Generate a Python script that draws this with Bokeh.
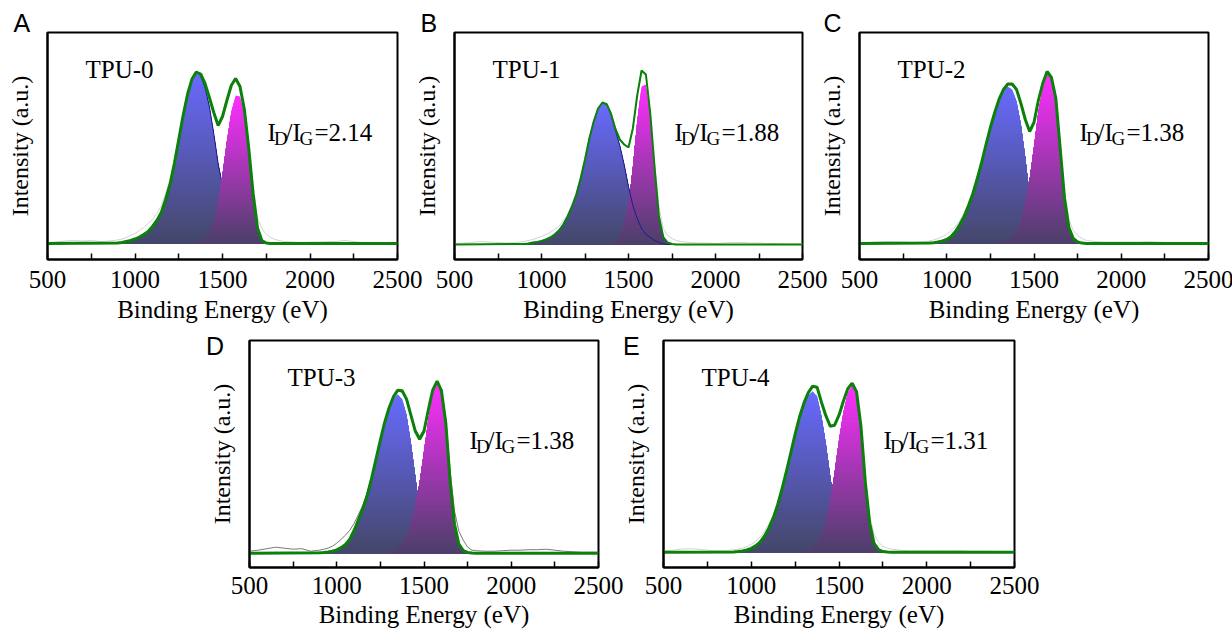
import numpy as np
from bokeh.plotting import figure
from bokeh.layouts import row, column
from bokeh.models import Range1d, FixedTicker, ColumnDataSource, Div
from bokeh.core.properties import value
from bokeh.embed import file_html
from bokeh.resources import INLINE

# ------------------------------------------------------------------ data
# x positions (Raman shift, labelled "Binding Energy (eV)" in the figure)
FIT_ENERGY = list(range(900, 1801, 25))
RAW_ENERGY = list(range(500, 851, 50)) + list(range(900, 1801, 25)) + list(range(1850, 2501, 50))
X_TICKS = [500, 1000, 1500, 2000, 2500]
X_MINOR_TICKS = [750, 1250, 1750, 2250]

PANEL_LETTERS = ["A", "B", "C", "D", "E"]
SAMPLES = ["TPU-0", "TPU-1", "TPU-2", "TPU-3", "TPU-4"]
ID_IG = ["2.14", "1.88", "1.38", "1.38", "1.31"]

# fitted D band (about 1350) and G band (about 1585), read on FIT_ENERGY
D_TPU0 = [0.5, 1, 2, 3, 4.5, 6.5, 9, 12, 17, 23, 31, 44, 59, 80, 104, 128, 149, 164, 171,
          168, 156, 137, 110, 80, 58, 41, 27, 17, 10, 6, 3, 1.5, 0.5, 0, 0, 0, 0]
G_TPU0 = [0, 0, 0, 0, 0, 0, 0, 0, 0, 0, 0, 0, 0, 0, 0, 0, 0,
          0.2, 0.5, 1.5, 4, 9, 21, 38, 69, 102, 131, 148, 147, 128, 92, 48, 15, 3, 0.5, 0, 0]
D_TPU1 = [0.5, 1, 2, 2.5, 3.5, 5, 7, 10, 14, 20, 28, 38, 50, 66, 85, 106, 123, 136, 142,
          140, 130, 114, 99, 80, 58, 39, 26, 16, 10, 7, 4, 2, 0.5, 0, 0, 0, 0]
G_TPU1 = [0, 0, 0, 0, 0, 0, 0, 0, 0, 0, 0, 0, 0, 0, 0, 0, 0, 0, 0,
          0.3, 0.5, 1.5, 6, 20, 39, 77, 123, 158, 160, 124, 73, 26, 7, 2, 0.5, 0, 0]
D_TPU2 = [0.4, 0.8, 1.5, 2.5, 4, 7, 12, 19, 27, 38, 50, 65, 81, 99, 116, 131, 144, 153, 157,
          154, 142, 119, 86, 48, 24, 11, 5, 2, 1, 0.3, 0, 0, 0, 0, 0, 0, 0]
G_TPU2 = [0, 0, 0, 0, 0, 0, 0, 0, 0, 0, 0, 0, 0, 0, 0, 0,
          0.4, 1, 2.5, 5.5, 12, 21, 38, 64, 97, 132, 155, 170, 165, 145, 95, 45, 16, 5, 1.5, 0.4, 0]
D_TPU3 = [0.4, 0.7, 1.2, 2, 3.3, 5.5, 8.7, 14, 23, 34, 45, 58, 75, 94, 113, 131, 145, 155, 159,
          154, 138, 110, 77, 43, 20, 9.5, 4, 1.5, 0.5, 0, 0, 0, 0, 0, 0, 0, 0]
G_TPU3 = [0, 0, 0, 0, 0, 0, 0, 0, 0, 0, 0, 0, 0, 0, 0, 0,
          0.5, 1.5, 4, 8.5, 16, 28, 45, 71, 102, 134, 159, 170.5, 162, 130, 71, 29, 9, 2.5, 0.7, 0.2, 0]
D_TPU4 = [0.3, 0.6, 1.2, 2.2, 3.8, 6.4, 10, 16, 24, 34, 47, 63, 80.5, 99, 118, 135, 148, 157, 161,
          156, 136, 108.5, 76, 47, 25, 11, 4.5, 1.6, 0.5, 0, 0, 0, 0, 0, 0, 0, 0]
G_TPU4 = [0, 0, 0, 0, 0, 0, 0, 0, 0, 0, 0, 0, 0, 0, 0,
          0.2, 1, 2.5, 5, 9, 14, 28, 50, 80, 112, 140, 159, 167.5, 160, 126, 70, 29, 8.8, 2.5, 0.6, 0.2, 0]

# measured spectra (thin grey lines), read on RAW_ENERGY
RAW_TPU0 = [1, 1.5, 2.5, 3, 2.5, 3, 2, 2.5,
            3.5, 4.5, 6, 8, 10, 13, 16, 20, 24, 30, 38, 50, 64, 84, 106, 129, 150, 164, 171, 169,
            160, 146, 131, 119, 127, 143, 157, 164, 158, 137, 100, 58, 26, 15, 9, 6, 4,
            2, 1.5, 1, 1.5, 1.5, 2, 2, 3, 2, 1, 1, 0.5, 0.5, 0.5]
RAW_TPU1 = [1, 1.5, 2, 3, 2.5, 2, 1.5, 2,
            3, 4, 5, 6.5, 8, 10, 12, 15, 18, 24, 30, 40, 52, 68, 87, 107, 124, 136, 142, 140,
            131, 117, 106, 101, 98, 117, 148, 172, 169, 133, 82, 38, 16, 9, 6, 4, 3,
            2, 1.5, 1.5, 1, 1.5, 2, 2, 1.5, 1.5, 1, 1, 0.5, 0.5, 0.5]
RAW_TPU2 = [1, 1, 1.5, 2, 1.5, 1.5, 1, 1.5,
            2.5, 3.5, 5, 7, 9, 13, 17, 23, 31, 41, 53, 67, 82, 99, 116, 131, 144, 153, 158, 158,
            153, 140, 125, 114, 122, 143, 159, 170, 165, 146, 100, 52, 24, 13, 8, 5, 3,
            2, 1.5, 1.5, 1.5, 1.5, 1.5, 2, 1.5, 1, 1, 1, 0.5, 0.5, 0.5]
RAW_TPU3 = [2, 3, 4.5, 6, 5, 4, 4.5, 2,
            3, 4, 5, 7, 10, 14, 18, 23, 30, 39, 48, 61, 77, 95, 114, 131, 145, 156, 162, 161,
            153, 138, 124, 117, 124, 144, 162, 170, 163, 135, 82, 42, 22, 13, 6, 3, 2.5,
            2, 2, 2.5, 3, 3, 3.5, 3.5, 4, 3, 2, 1.5, 1, 1, 1]
RAW_TPU4 = [1.5, 2, 3, 3.5, 3, 2, 1.5, 1.5,
            2.5, 3, 4, 5.5, 8, 11, 15, 21, 28, 37, 50, 65, 82, 100, 118, 135, 149, 159, 165, 164,
            150, 137, 127, 128, 137, 150, 162, 168, 161, 130, 76, 36, 18, 10, 6, 4, 3,
            2, 1.5, 1.5, 1.5, 1.5, 1.5, 1.5, 1.5, 1, 1, 1, 0.5, 0.5, 0.5]

D_BANDS = [D_TPU0, D_TPU1, D_TPU2, D_TPU3, D_TPU4]
G_BANDS = [G_TPU0, G_TPU1, G_TPU2, G_TPU3, G_TPU4]
RAWS = [RAW_TPU0, RAW_TPU1, RAW_TPU2, RAW_TPU3, RAW_TPU4]

# ------------------------------------------------------------------ style
SERIF = "Liberation Serif"
SANS = "Liberation Sans"
D_TOP, D_BOTTOM = (104, 106, 255), (68, 71, 104)
G_TOP, G_BOTTOM = (255, 46, 255), (75, 63, 105)
FIT_COLOR = "#0b800b"


def mix(c0, c1, t):
    return "#%02x%02x%02x" % tuple(int(round(a + (b - a) * t)) for a, b in zip(c0, c1))


def gradient_area(p, x, y, top_rgb, bottom_rgb, n=40):
    # vertical colour gradient, drawn as stacked layers (top colour first)
    xf = np.arange(x[0], x[-1] + 0.1, 2.5)
    yf = np.interp(xf, x, y)
    h = yf.max()
    for i in range(n - 1, -1, -1):
        hi = h * (i + 1) / n
        col = mix(bottom_rgb, top_rgb, (i + 0.5) / n)
        p.varea(x=xf, y1=np.zeros_like(yf), y2=np.minimum(yf, hi),
                fill_color=col, fill_alpha=1.0)


def panel(i, frame_w, frame_h, ml, mr, mt, mb, margin, y_lo, y_hi, title_dx,
          raw_color, fit_w, navy, tick_standoff, label_standoff):
    p = figure(frame_width=frame_w, frame_height=frame_h,
               x_range=Range1d(500, 2500), y_range=Range1d(y_lo, y_hi),
               output_backend="svg", toolbar_location=None,
               min_border_left=ml, min_border_right=mr, min_border_top=mt, min_border_bottom=mb,
               margin=margin, border_fill_color=None,
               background_fill_color="white", outline_line_color="black", outline_line_width=2)
    p.xgrid.visible = False
    p.ygrid.visible = False

    if title_dx is not None:
        # panel letter as the figure title, pulled to the left of the frame
        p.title.text = PANEL_LETTERS[i]
        p.title.align = "left"
        p.title.offset = title_dx
        p.title.text_font = SANS
        p.title.text_font_size = "25px"
        p.title.text_font_style = "normal"
        p.title.text_color = "black"
        try:
            p.title.standoff = -9
        except Exception:
            p.title.standoff = 0

    xa = p.xaxis[0]
    xa.ticker = FixedTicker(ticks=X_TICKS, minor_ticks=X_MINOR_TICKS)
    xa.major_tick_in = 6
    xa.major_tick_out = 0
    xa.minor_tick_in = 6
    xa.minor_tick_out = 0
    xa.major_tick_line_width = 1.5
    xa.minor_tick_line_width = 1.5
    xa.axis_line_width = 2
    xa.major_label_text_font = SERIF
    xa.major_label_text_font_size = "25px"
    xa.major_label_text_color = "black"
    xa.major_label_standoff = tick_standoff
    xa.axis_label = "Binding Energy (eV)"
    xa.axis_label_text_font = SERIF
    xa.axis_label_text_font_size = "25px"
    xa.axis_label_text_font_style = "normal"
    xa.axis_label_text_color = "black"
    xa.axis_label_standoff = label_standoff

    ya = p.yaxis[0]
    ya.ticker = FixedTicker(ticks=[])
    ya.major_tick_line_color = None
    ya.minor_tick_line_color = None
    ya.major_label_text_font_size = "0px"
    ya.axis_line_width = 2
    ya.axis_label = "Intensity (a.u.)"
    ya.axis_label_text_font = SERIF
    ya.axis_label_text_font_size = "24px"
    ya.axis_label_text_font_style = "normal"
    ya.axis_label_text_color = "black"
    ya.axis_label_standoff = 15

    def px2x(dx):
        return 500 + dx * 2000.0 / frame_w

    def px2y(dy):
        return y_hi - dy * (y_hi - y_lo) / frame_h

    d = D_BANDS[i]
    g = G_BANDS[i]
    gradient_area(p, FIT_ENERGY, d, D_TOP, D_BOTTOM)
    if navy == "under":
        p.line(FIT_ENERGY, d, line_color="#1c1c8c", line_width=1)
    gradient_area(p, FIT_ENERGY, g, G_TOP, G_BOTTOM)
    if navy == "over":
        p.line(FIT_ENERGY, d, line_color="#1c1c8c", line_width=1)
    p.line(RAW_ENERGY, RAWS[i], line_color=raw_color, line_width=1)
    env = [a + b for a, b in zip(d, g)]
    p.line([500] + FIT_ENERGY + [2500], [0] + env + [0], line_color=FIT_COLOR, line_width=fit_w)

    p.text(x=[px2x(38)], y=[px2y(37)], text=[SAMPLES[i]], text_font=value(SERIF),
           text_font_size="25px", text_baseline="alphabetic", text_align="left", text_color="black")
    src = ColumnDataSource(dict(
        x=[px2x(220)] * 5, y=[px2y(100)] * 5,
        text=["I", "D", "/I", "G", "=" + ID_IG[i]],
        dx=[0, 6.5, 18, 32, 47], dy=[0, 6, 0, 6, 0],
        size=["25px", "19px", "25px", "19px", "25px"]))
    p.text(x="x", y="y", text="text", x_offset="dx", y_offset="dy", text_font_size="size",
           source=src, text_font=value(SERIF), text_baseline="alphabetic", text_align="left",
           text_color="black")
    return p


def letter_div(i, margin):
    return Div(text=PANEL_LETTERS[i], width=22, height=26, margin=margin,
               styles={"font-family": "'Liberation Sans', Arial, sans-serif",
                       "font-size": "25px", "line-height": "25px", "color": "black"})


pA = panel(0, 350, 227, 47, 27, 32, 80, (0, 0, 0, 0), -16, 211, -34, "#d2d2d2", 3, "under", 11, 5)
pB = panel(1, 348, 227, 41, 27, 32, 80, (0, 0, 0, -14), -15, 212, -34, "#d2d2d2", 2, "over", 11, 5)
pC = panel(2, 349, 227, 42, 29, 32, 80, (0, 0, 0, -14), -16, 211, -36, "#d2d2d2", 3, None, 11, 5)
pD = panel(3, 349, 227, 49, 27, 10, 60, (-9, 0, 0, -28), -14.3, 212.7, None, "#7a7a7a", 3, None, 9, 4)
pE = panel(4, 351, 227, 52, 27, 10, 60, (-9, 0, 0, -34), -15.3, 211.7, None, "#d2d2d2", 3, None, 9, 4)
dD = letter_div(3, (-5, 0, 0, 206))
dE = letter_div(4, (-5, 0, 0, -2))

layout = column(row(pA, pB, pC, spacing=0), row(dD, pD, dE, pE, spacing=0), spacing=0)

with open("out.html", "w") as f:
    f.write(file_html(layout, INLINE))
